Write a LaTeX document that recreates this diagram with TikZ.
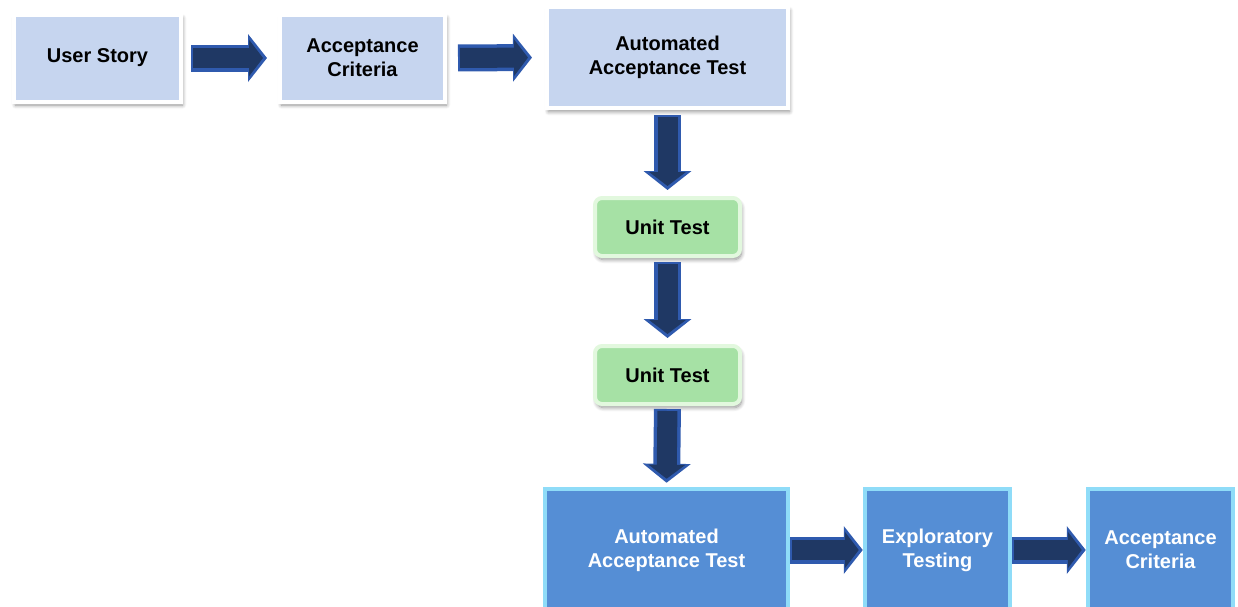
\documentclass[tikz,border=0pt]{standalone}
\usepackage{fontspec}
\setmainfont{Liberation Sans}
\usetikzlibrary{arrows.meta,shadows.blur}

\definecolor{paleblue}{HTML}{C6D5EF}
\definecolor{palegreen}{HTML}{A6E1A5}
\definecolor{greenrim}{HTML}{E2F8DE}
\definecolor{midblue}{HTML}{558ED5}
\definecolor{cyanrim}{HTML}{8FDCF8}
\definecolor{navy}{HTML}{1F3864}
\definecolor{navyrim}{HTML}{2F5AAE}

\tikzset{
  lbl/.style={font=\bfseries\fontsize{20}{24}\selectfont, align=center},
  softshadow/.style={blur shadow={shadow xshift=1.5pt, shadow yshift=-3.5pt,
    shadow blur radius=4pt, shadow blur steps=8, shadow opacity=45}},
  lightbox/.style={lbl, fill=paleblue, draw=white, line width=4pt, inner sep=0pt, softshadow},
  greenbox/.style={lbl, fill=palegreen, draw=greenrim, line width=4pt, inner sep=0pt,
    rounded corners=7pt, minimum width=145pt, minimum height=58pt, softshadow},
  darkbox/.style={lbl, text=white, fill=midblue, draw=cyanrim, line width=4.5pt, inner sep=0pt},
  flowouter/.style={draw=navyrim, line width=27pt,
    -{Triangle[width=47pt,length=19pt]}},
  flowinner/.style={draw=navy, line width=20pt,
    -{Triangle[width=36pt,length=14pt]}},
}

\newcommand{\flow}[4]{% from, to, shorten start, shorten end
  \draw[flowouter, shorten <=#3, shorten >=#4] (#1) -- (#2);
  \draw[flowinner, shorten <=#3+2pt, shorten >=#4+4pt] (#1) -- (#2);
}

\begin{document}
\begin{tikzpicture}[x=1pt,y=-1pt]
  \useasboundingbox (0,0) rectangle (1238,606);
  \clip (0,0) rectangle (1238,606);

  % top row
  \node[lightbox, minimum width=167pt, minimum height=87pt] (us) at (97.5,58) {User Story};
  \node[lightbox, minimum width=165pt, minimum height=87pt] (ac1) at (362.5,58) {Acceptance\\Criteria};
  \node[lightbox, minimum width=241pt, minimum height=101pt] (aat1) at (667.5,57.5) {Automated\\Acceptance Test};

  % unit tests
  \node[greenbox] (ut1) at (667.5,227) {Unit Test};
  \node[greenbox] (ut2) at (667.5,375) {Unit Test};

  % bottom row
  \node[darkbox, minimum width=243pt, minimum height=122pt] (aat2) at (666.5,550) {Automated\\Acceptance Test};
  \node[darkbox, minimum width=145pt, minimum height=122pt] (et) at (937.5,550) {Exploratory\\Testing};
  \node[darkbox, minimum width=145pt, minimum height=122pt] (ac2) at (1160.5,550) {Acceptance\\Criteria};

  % connectors
  \flow{us.east}{ac1.west}{8pt}{11pt}
  \flow{ac1.east}{aat1.west}{11pt}{13pt}
  \flow{aat1.south}{ut1.north}{5pt}{6pt}
  \flow{ut1.south}{ut2.north}{4pt}{6pt}
  \flow{ut2.south}{aat2.north}{3pt}{4pt}
  \flow{aat2.east}{et.west}{0pt}{0pt}
  \flow{et.east}{ac2.west}{0pt}{0pt}
\end{tikzpicture}
\end{document}
